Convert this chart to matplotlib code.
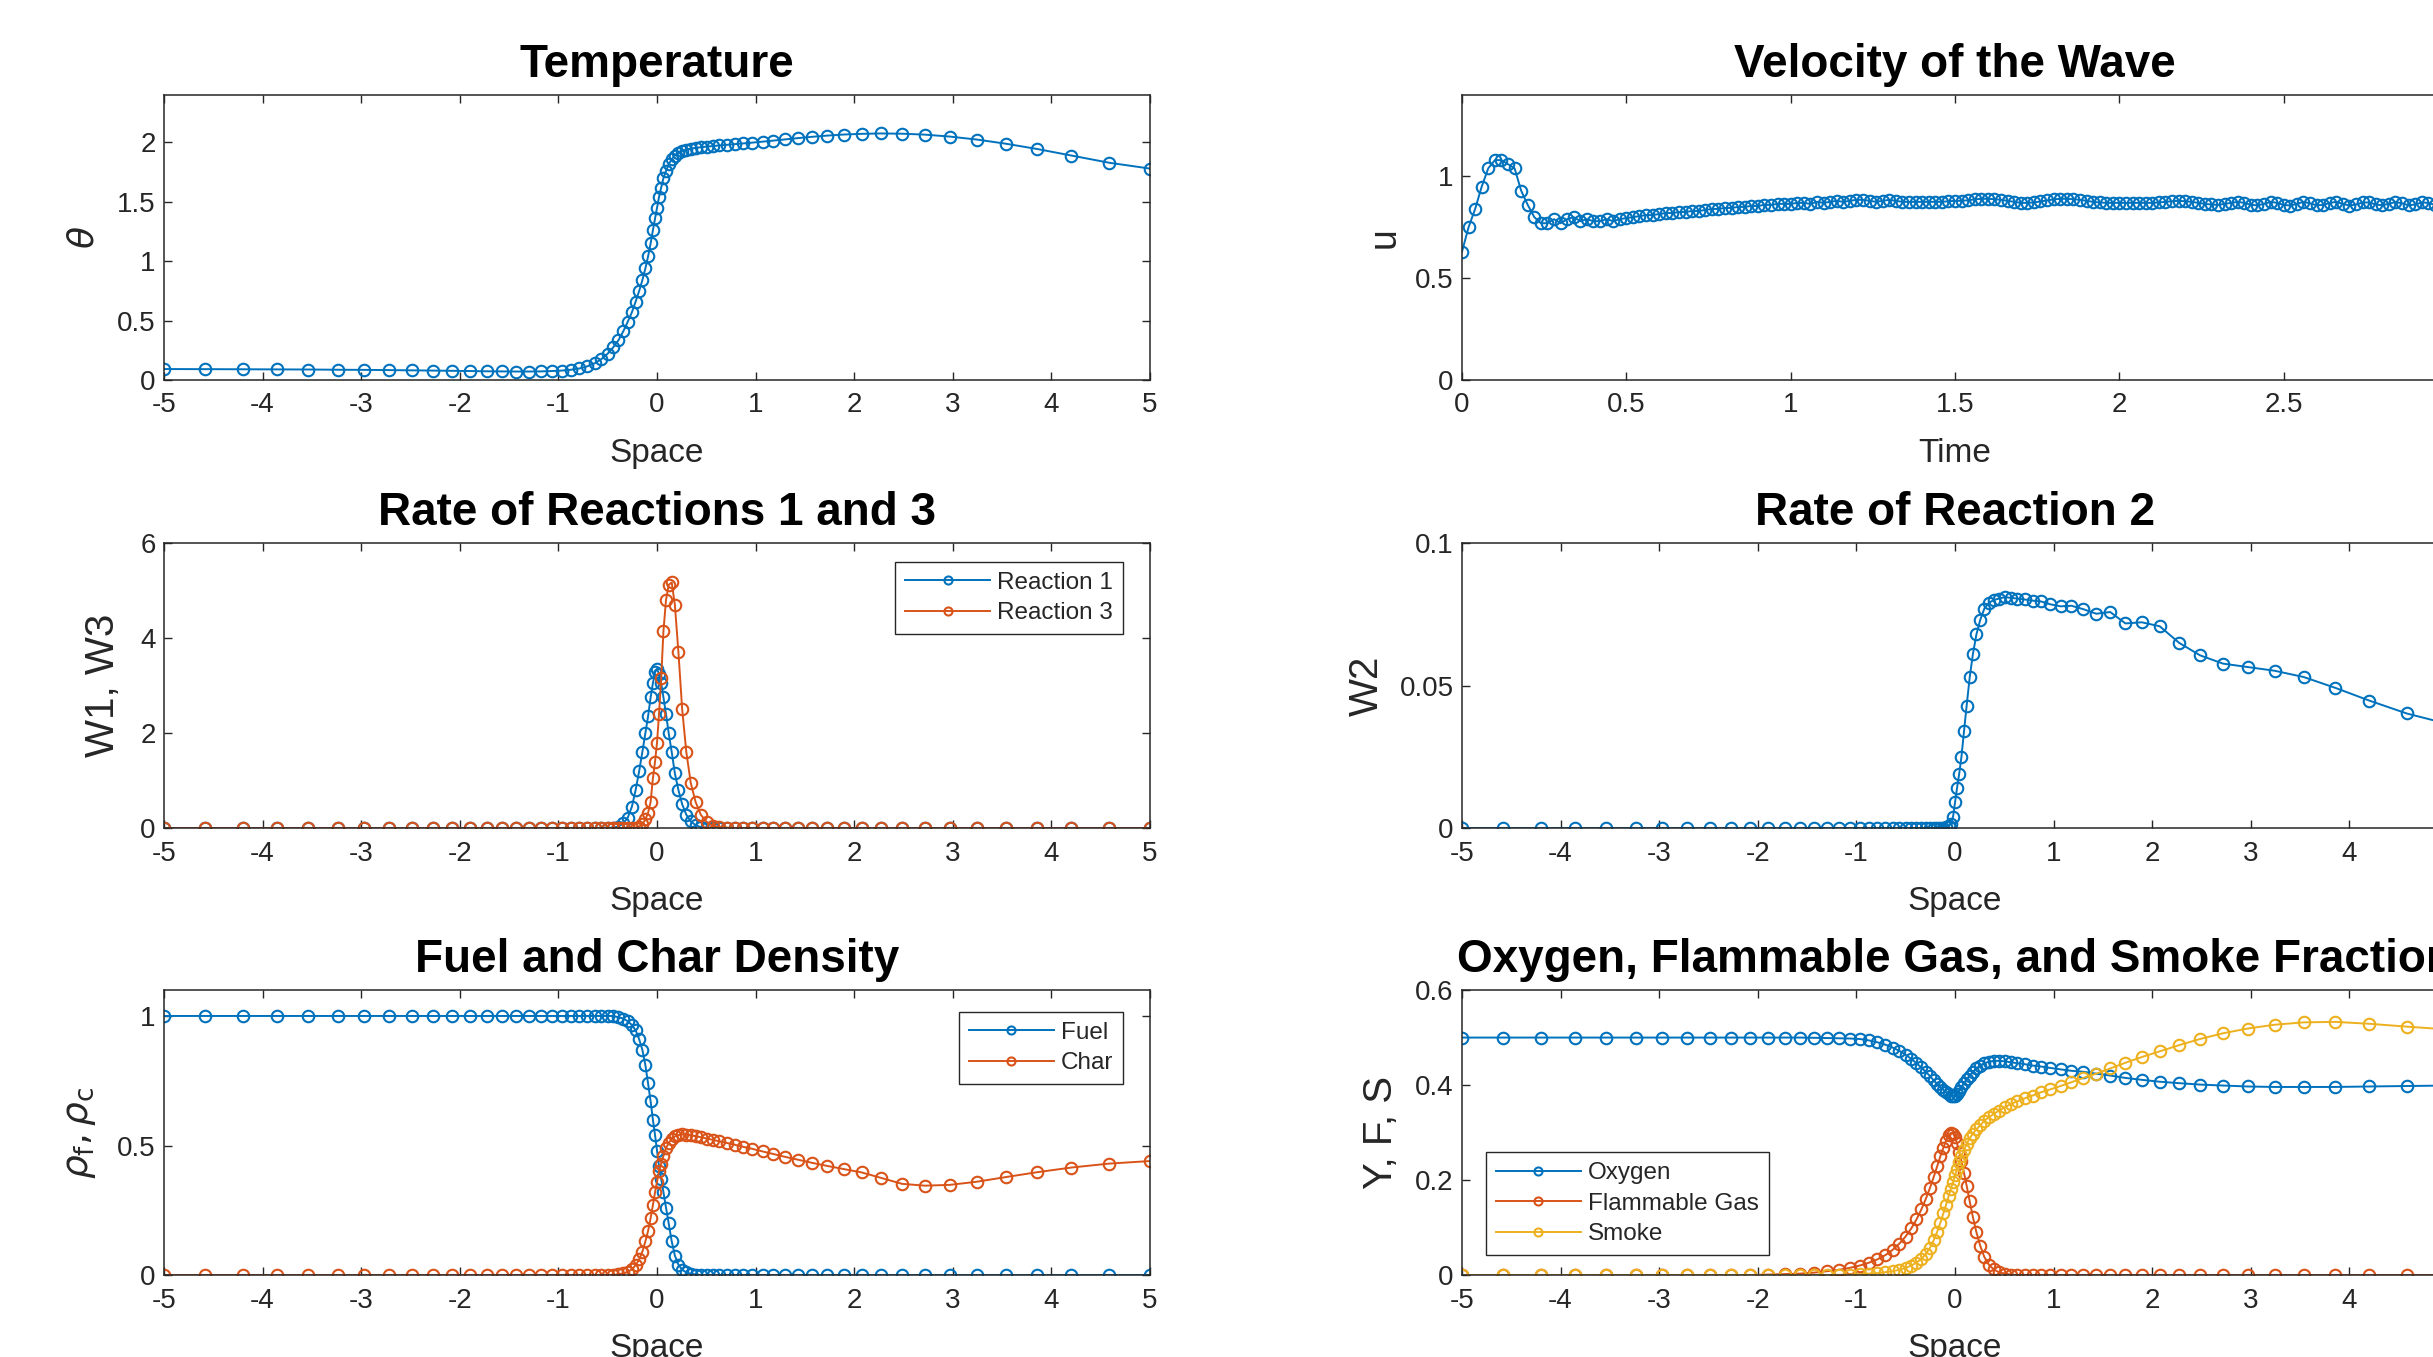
import numpy as np
import matplotlib
matplotlib.use("Agg")
import matplotlib.pyplot as plt
from matplotlib.ticker import FuncFormatter

plt.rcParams['font.family'] = ['Liberation Sans', 'DejaVu Sans']
plt.rcParams['axes.unicode_minus'] = False
plt.rcParams['mathtext.fontset'] = 'dejavusans'

# non-uniform space mesh (denser around the front)
space = [-5.0, -4.581, -4.203, -3.856, -3.535, -3.240, -2.967, -2.717, -2.485, -2.272,
         -2.076, -1.894, -1.728, -1.574, -1.432, -1.301, -1.181, -1.070, -0.968, -0.873,
         -0.787, -0.706, -0.633, -0.565, -0.502, -0.444, -0.391, -0.342, -0.297, -0.255,
         -0.217, -0.181, -0.149, -0.118, -0.091, -0.065, -0.042, -0.020, 0.0,
         0.020, 0.042, 0.065, 0.091, 0.118, 0.149, 0.181, 0.217, 0.255, 0.297,
         0.342, 0.391, 0.444, 0.502, 0.565, 0.633, 0.706, 0.787, 0.873, 0.968,
         1.070, 1.181, 1.301, 1.432, 1.574, 1.728, 1.894, 2.076, 2.272, 2.485,
         2.717, 2.967, 3.240, 3.535, 3.856, 4.203, 4.581, 5.0]

theta = [0.092, 0.091, 0.090, 0.089, 0.088, 0.086, 0.085, 0.083, 0.081, 0.079,
         0.077, 0.075, 0.073, 0.072, 0.071, 0.071, 0.072, 0.075, 0.079, 0.086,
         0.097, 0.115, 0.14, 0.175, 0.22, 0.275, 0.335, 0.41, 0.49, 0.57,
         0.66, 0.75, 0.84, 0.94, 1.04, 1.15, 1.26, 1.36, 1.45,
         1.54, 1.62, 1.70, 1.76, 1.815, 1.86, 1.89, 1.912, 1.928, 1.94,
         1.948, 1.955, 1.96, 1.965, 1.97, 1.975, 1.98, 1.986, 1.992, 1.999,
         2.007, 2.016, 2.026, 2.037, 2.048, 2.058, 2.067, 2.073, 2.076, 2.074,
         2.066, 2.05, 2.025, 1.99, 1.945, 1.89, 1.83, 1.78]

w1 = [0, 0, 0, 0, 0, 0, 0, 0, 0, 0,
      0, 0, 0, 0, 0, 0, 0, 0, 0, 0,
      0, 0, 0, 0, 0, 0.01, 0.03, 0.1, 0.22, 0.45,
      0.8, 1.2, 1.6, 2.0, 2.35, 2.75, 3.05, 3.28, 3.35,
      3.25, 3.05, 2.75, 2.4, 2.0, 1.6, 1.15, 0.8, 0.5, 0.28,
      0.14, 0.06, 0.02, 0.01, 0, 0, 0, 0, 0, 0,
      0, 0, 0, 0, 0, 0, 0, 0, 0, 0,
      0, 0, 0, 0, 0, 0, 0, 0]

w3 = [0, 0, 0, 0, 0, 0, 0, 0, 0, 0,
      0, 0, 0, 0, 0, 0, 0, 0, 0, 0,
      0, 0, 0, 0, 0, 0, 0, 0, 0, 0,
      0.01, 0.03, 0.08, 0.18, 0.32, 0.55, 1.05, 1.4, 1.8,
      2.4, 3.15, 4.15, 4.8, 5.12, 5.17, 4.7, 3.7, 2.5, 1.6,
      0.95, 0.55, 0.28, 0.13, 0.05, 0.02, 0.01, 0, 0, 0,
      0, 0, 0, 0, 0, 0, 0, 0, 0, 0,
      0, 0, 0, 0, 0, 0, 0, 0]

w2 = [0, 0, 0, 0, 0, 0, 0, 0, 0, 0,
      0, 0, 0, 0, 0, 0, 0, 0, 0, 0,
      0, 0, 0, 0, 0, 0, 0, 0, 0, 0,
      0, 0, 0, 0, 0.0003, 0.0007, 0.0015, 0.004, 0.009,
      0.014, 0.019, 0.025, 0.034, 0.043, 0.053, 0.061, 0.068, 0.073, 0.077,
      0.079, 0.080, 0.0805, 0.081, 0.0808, 0.0805, 0.0802, 0.0798, 0.0795, 0.0785,
      0.0778, 0.078, 0.0768, 0.0752, 0.0758, 0.0718, 0.0722, 0.0708, 0.065, 0.0606,
      0.0577, 0.0565, 0.0552, 0.053, 0.0492, 0.0447, 0.0402, 0.0365]

fuel = [1, 1, 1, 1, 1, 1, 1, 1, 1, 1,
        1, 1, 1, 1, 1, 1, 1, 1, 1, 1,
        1, 1, 1, 1, 1, 1, 0.995, 0.99, 0.98, 0.965,
        0.945, 0.91, 0.87, 0.81, 0.74, 0.67, 0.6, 0.54, 0.48,
        0.42, 0.37, 0.32, 0.26, 0.2, 0.13, 0.075, 0.04, 0.02, 0.01,
        0.005, 0.002, 0, 0, 0, 0, 0, 0, 0, 0,
        0, 0, 0, 0, 0, 0, 0, 0, 0, 0,
        0, 0, 0, 0, 0, 0, 0, 0]

char = [0, 0, 0, 0, 0, 0, 0, 0, 0, 0,
        0, 0, 0, 0, 0, 0, 0, 0, 0, 0,
        0, 0, 0, 0, 0, 0, 0.003, 0.006, 0.012, 0.022,
        0.038, 0.06, 0.09, 0.13, 0.17, 0.22, 0.27, 0.32, 0.36,
        0.40, 0.43, 0.46, 0.49, 0.51, 0.525, 0.535, 0.54, 0.543, 0.542,
        0.54, 0.536, 0.532, 0.527, 0.522, 0.516, 0.51, 0.503, 0.495, 0.487,
        0.477, 0.467, 0.456, 0.445, 0.433, 0.421, 0.409, 0.396, 0.375, 0.352,
        0.345, 0.348, 0.36, 0.378, 0.397, 0.415, 0.43, 0.44]

oxygen = [0.5, 0.5, 0.5, 0.5, 0.5, 0.5, 0.5, 0.5, 0.5, 0.5,
          0.5, 0.5, 0.5, 0.5, 0.4995, 0.499, 0.4985, 0.498, 0.497, 0.494,
          0.49, 0.485, 0.479, 0.472, 0.464, 0.455, 0.446, 0.437, 0.428, 0.419,
          0.41, 0.402, 0.396, 0.39, 0.385, 0.381, 0.378, 0.377, 0.378,
          0.382, 0.388, 0.396, 0.404, 0.412, 0.42, 0.428, 0.435, 0.441, 0.446,
          0.449, 0.451, 0.451, 0.45, 0.448, 0.446, 0.444, 0.441, 0.439, 0.436,
          0.433, 0.43, 0.428, 0.424, 0.42, 0.415, 0.411, 0.407, 0.404, 0.401,
          0.399, 0.397, 0.396, 0.396, 0.396, 0.397, 0.398, 0.399]

flammable = [0, 0, 0, 0, 0, 0, 0, 0, 0, 0,
             0, 0.001, 0.002, 0.003, 0.005, 0.008, 0.011, 0.015, 0.02, 0.026,
             0.033, 0.042, 0.053, 0.066, 0.081, 0.098, 0.117, 0.138, 0.16, 0.183,
             0.206, 0.229, 0.25, 0.268, 0.283, 0.294, 0.299, 0.298, 0.29,
             0.277, 0.26, 0.24, 0.215, 0.188, 0.155, 0.122, 0.09, 0.062, 0.038,
             0.022, 0.012, 0.006, 0.003, 0.001, 0, 0, 0, 0, 0,
             0, 0, 0, 0, 0, 0, 0, 0, 0, 0,
             0, 0, 0, 0, 0, 0, 0, 0]

smoke = [0, 0, 0, 0, 0, 0, 0, 0, 0, 0,
         0, 0, 0, 0, 0, 0, 0.0005, 0.001, 0.002, 0.003,
         0.004, 0.006, 0.008, 0.011, 0.015, 0.02, 0.026, 0.034, 0.044, 0.057,
         0.073, 0.091, 0.11, 0.13, 0.148, 0.166, 0.182, 0.196, 0.21,
         0.224, 0.238, 0.251, 0.264, 0.276, 0.288, 0.298, 0.307, 0.315, 0.325,
         0.332, 0.339, 0.346, 0.353, 0.36, 0.366, 0.372, 0.378, 0.385, 0.391,
         0.398, 0.406, 0.415, 0.424, 0.435, 0.447, 0.459, 0.471, 0.484, 0.497,
         0.509, 0.519, 0.527, 0.532, 0.533, 0.529, 0.523, 0.517]

# wave velocity, sampled every dt in time
dt = 0.02
velocity = [0.63, 0.75, 0.84, 0.95, 1.04, 1.08, 1.08, 1.06, 1.04, 0.93,
            0.86, 0.80, 0.77, 0.77, 0.79, 0.77, 0.79, 0.80, 0.78, 0.79,
            0.78, 0.78, 0.79, 0.78, 0.79, 0.795, 0.80, 0.805, 0.81, 0.81,
            0.815, 0.82, 0.82, 0.825, 0.825, 0.83, 0.83, 0.835, 0.84, 0.84,
            0.845, 0.845, 0.85, 0.85, 0.855, 0.855, 0.86, 0.86, 0.865, 0.865,
            0.865, 0.87, 0.87, 0.865, 0.875, 0.87, 0.875, 0.88, 0.875, 0.88,
            0.885, 0.885, 0.88, 0.875, 0.88, 0.885, 0.88, 0.875, 0.875, 0.875,
            0.875, 0.875, 0.875, 0.875, 0.878, 0.88, 0.88, 0.883, 0.887, 0.89,
            0.89, 0.888, 0.885, 0.88, 0.875, 0.87, 0.87, 0.872, 0.877, 0.882,
            0.887, 0.89, 0.89, 0.888, 0.885, 0.88, 0.875, 0.872, 0.87, 0.87,
            0.87, 0.87, 0.87, 0.87, 0.87, 0.87, 0.872, 0.875, 0.878, 0.88,
            0.878, 0.875, 0.87, 0.865, 0.862, 0.86, 0.865, 0.87, 0.875, 0.87,
            0.86, 0.858, 0.865, 0.875, 0.87, 0.86, 0.857, 0.865, 0.875, 0.868,
            0.858, 0.86, 0.87, 0.875, 0.865, 0.857, 0.862, 0.872, 0.872, 0.862,
            0.858, 0.866, 0.874, 0.868, 0.858, 0.862, 0.872, 0.87, 0.86, 0.862,
            0.87]
time = np.arange(len(velocity)) * dt

BLUE = '#0072BD'
ORANGE = '#D95319'
YELLOW = '#EDB120'
AXC = '#262626'

fmt = FuncFormatter(lambda v, _: '{:g}'.format(round(v, 6)))


def make_axes(rect, title, xlabel, ylabel, ylab_x, ylab_size=29):
    ax = fig.add_axes(rect)
    ax.set_title(title, fontsize=33, fontweight='bold', pad=13)
    ax.set_xlabel(xlabel, fontsize=24, color=AXC)
    ax.xaxis.set_label_coords(0.5, -0.257)
    ax.xaxis.label.set_va('center')
    ax.set_ylabel(ylabel, fontsize=ylab_size, color=AXC)
    ax.yaxis.set_label_coords(ylab_x, 0.5)
    ax.yaxis.label.set_va('center')
    ax.tick_params(direction='in', length=6, width=1, top=True, right=True,
                   labelsize=20, colors=AXC)
    ax.tick_params(axis='x', pad=9)
    ax.tick_params(axis='y', pad=6)
    for sp in ax.spines.values():
        sp.set_linewidth(1.1)
        sp.set_color(AXC)
    ax.xaxis.set_major_formatter(fmt)
    ax.yaxis.set_major_formatter(fmt)
    return ax


def curve(ax, x, y, color, label=None):
    ax.plot(x, y, '-o', color=color, lw=1.4, ms=8.3, mfc='none', mew=1.5,
            label=label)


def legend(ax, loc, anchor):
    leg = ax.legend(loc=loc, bbox_to_anchor=anchor, borderaxespad=0,
                    fontsize=17.5, fancybox=False, edgecolor=AXC, framealpha=1,
                    handlelength=3.5, handletextpad=0.3, borderpad=0.4,
                    labelspacing=0.35, markerscale=0.7)
    leg.get_frame().set_linewidth(1.0)
    for t in leg.get_texts():
        t.set_color(AXC)


fig = plt.figure(figsize=(24.33, 13.57), dpi=100)

L, R, W = 0.0674, 0.6009, 0.4053
rows = [0.720, 0.3898, 0.0604]
H = 0.210

# Temperature
ax = make_axes([L, rows[0], W, H], 'Temperature', 'Space', r'$\theta$', -0.081, 26)
curve(ax, space, theta, BLUE)
ax.set_xlim(-5, 5)
ax.set_ylim(0, 2.4)
ax.set_xticks(range(-5, 6))
ax.set_yticks([0, 0.5, 1, 1.5, 2])

# Velocity of the wave
ax = make_axes([R, rows[0], W, H], 'Velocity of the Wave', 'Time', 'u', -0.078, 27)
curve(ax, time, velocity, BLUE)
ax.set_xlim(0, 3)
ax.set_ylim(0, 1.4)
ax.set_xticks([0, 0.5, 1, 1.5, 2, 2.5, 3])
ax.set_yticks([0, 0.5, 1])

# Reactions 1 and 3
ax = make_axes([L, rows[1], W, H], 'Rate of Reactions 1 and 3', 'Space', 'W1, W3', -0.062)
curve(ax, space, w1, BLUE, 'Reaction 1')
curve(ax, space, w3, ORANGE, 'Reaction 3')
ax.set_xlim(-5, 5)
ax.set_ylim(0, 6)
ax.set_xticks(range(-5, 6))
ax.set_yticks([0, 2, 4, 6])
legend(ax, 'upper right', (0.9726, 0.933))

# Reaction 2
ax = make_axes([R, rows[1], W, H], 'Rate of Reaction 2', 'Space', 'W2', -0.097)
curve(ax, space, w2, BLUE)
ax.set_xlim(-5, 5)
ax.set_ylim(0, 0.1)
ax.set_xticks(range(-5, 6))
ax.set_yticks([0, 0.05, 0.1])

# Fuel and char
ax = make_axes([L, rows[2], W, H], 'Fuel and Char Density', 'Space',
               r'$\rho_\mathrm{f}, \rho_\mathrm{c}$', -0.085, 27)
curve(ax, space, fuel, BLUE, 'Fuel')
curve(ax, space, char, ORANGE, 'Char')
ax.set_xlim(-5, 5)
ax.set_ylim(0, 1.1)
ax.set_xticks(range(-5, 6))
ax.set_yticks([0, 0.5, 1])
legend(ax, 'upper right', (0.9726, 0.9225))

# Gas fractions
ax = make_axes([R, rows[2], W, H], 'Oxygen, Flammable Gas, and Smoke Fraction',
               'Space', 'Y, F, S', -0.082)
curve(ax, space, oxygen, BLUE, 'Oxygen')
curve(ax, space, flammable, ORANGE, 'Flammable Gas')
curve(ax, space, smoke, YELLOW, 'Smoke')
ax.set_xlim(-5, 5)
ax.set_ylim(0, 0.6)
ax.set_xticks(range(-5, 6))
ax.set_yticks([0, 0.2, 0.4, 0.6])
legend(ax, 'lower left', (0.0243, 0.0704))

fig.savefig('out.png', dpi=100)
